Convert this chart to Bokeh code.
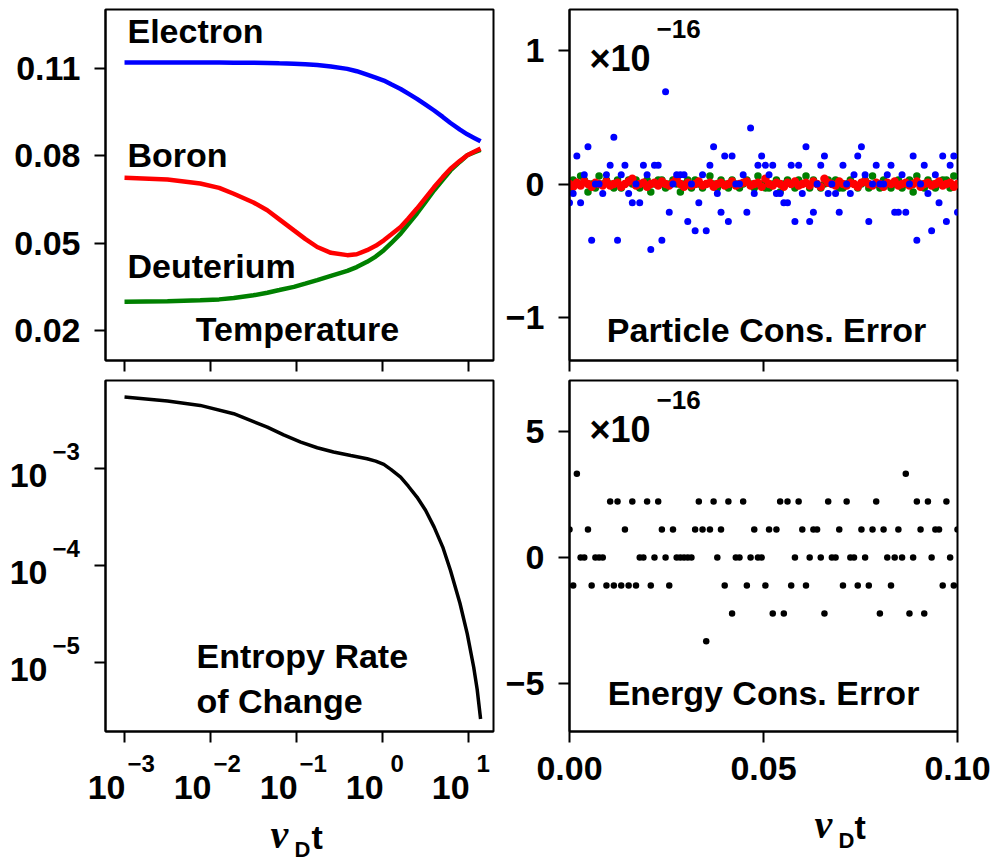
import math
from bokeh.plotting import figure
from bokeh.layouts import column, row
from bokeh.models import Range1d, FixedTicker, Label, CustomJSTickFormatter, NumeralTickFormatter
from bokeh.embed import file_html
from bokeh.resources import INLINE

FONT = "Liberation Sans"
SERIF = "Liberation Serif"

# ---------------- data ----------------
TEMP_T = [0.001, 0.00316, 0.00759, 0.0126, 0.0186, 0.0316, 0.0457, 0.0631, 0.0933, 0.126,
          0.174, 0.251, 0.389, 0.501, 0.661, 0.832, 1.035, 1.259, 1.622, 1.995,
          2.512, 3.162, 3.981, 5.012, 6.166, 7.943, 9.661, 11.75, 13.8]
ELECTRON = [0.1121, 0.1121, 0.1121, 0.1121, 0.1120, 0.1120, 0.1119, 0.1118, 0.1117, 0.1115,
            0.1112, 0.1107, 0.1099, 0.1091, 0.1079, 0.1069, 0.1059, 0.1046, 0.1030, 0.1014,
            0.0996, 0.0976, 0.0956, 0.0934, 0.0913, 0.0890, 0.0874, 0.0861, 0.0850]
BORON = [0.0725, 0.0719, 0.0705, 0.0690, 0.0670, 0.0640, 0.0613, 0.0582, 0.0544, 0.0515,
         0.0487, 0.0467, 0.0459, 0.0462, 0.0476, 0.0491, 0.0510, 0.0530, 0.0556, 0.0585,
         0.0619, 0.0656, 0.0693, 0.0727, 0.0756, 0.0783, 0.0802, 0.0815, 0.0825]
DEUTERIUM = [0.0299, 0.0301, 0.0304, 0.0307, 0.0312, 0.0321, 0.0330, 0.0339, 0.0350, 0.0361,
             0.0373, 0.0388, 0.0405, 0.0418, 0.0436, 0.0454, 0.0476, 0.0500, 0.0533, 0.0566,
             0.0602, 0.0642, 0.0682, 0.0718, 0.0750, 0.0780, 0.0802, 0.0813, 0.0821]

ENT_T = [0.001, 0.00316, 0.00759, 0.0186, 0.0457, 0.0708, 0.112, 0.174, 0.269, 0.427,
         0.661, 0.832, 1.035, 1.259, 1.622, 1.995, 2.512, 3.162, 3.981, 5.012,
         6.166, 7.943, 9.661, 11.48, 12.59, 13.8]
ENTROPY = [5.51e-3, 5.01e-3, 4.52e-3, 3.71e-3, 2.70e-3, 2.24e-3, 1.89e-3, 1.65e-3, 1.49e-3, 1.37e-3,
           1.27e-3, 1.20e-3, 1.11e-3, 9.8e-4, 8.2e-4, 6.6e-4, 5.1e-4, 3.72e-4, 2.49e-4, 1.55e-4,
           8.87e-5, 4.07e-5, 1.96e-5, 8.87e-6, 5.25e-6, 2.59e-6]

TIME = [0.0, 0.00095, 0.0019, 0.00286, 0.00381, 0.00476, 0.00571, 0.00667, 0.00762, 0.00857,
        0.00952, 0.01048, 0.01143, 0.01238, 0.01333, 0.01429, 0.01524, 0.01619, 0.01714, 0.0181,
        0.01905, 0.02, 0.02095, 0.0219, 0.02286, 0.02381, 0.02476, 0.02571, 0.02667, 0.02762,
        0.02857, 0.02952, 0.03048, 0.03143, 0.03238, 0.03333, 0.03429, 0.03524, 0.03619, 0.03714,
        0.0381, 0.03905, 0.04, 0.04095, 0.0419, 0.04286, 0.04381, 0.04476, 0.04571, 0.04667,
        0.04762, 0.04857, 0.04952, 0.05048, 0.05143, 0.05238, 0.05333, 0.05429, 0.05524, 0.05619,
        0.05714, 0.0581, 0.05905, 0.06, 0.06095, 0.0619, 0.06286, 0.06381, 0.06476, 0.06571,
        0.06667, 0.06762, 0.06857, 0.06952, 0.07048, 0.07143, 0.07238, 0.07333, 0.07429, 0.07524,
        0.07619, 0.07714, 0.0781, 0.07905, 0.08, 0.08095, 0.0819, 0.08286, 0.08381, 0.08476,
        0.08571, 0.08667, 0.08762, 0.08857, 0.08952, 0.09048, 0.09143, 0.09238, 0.09333, 0.09429,
        0.09524, 0.09619, 0.09714, 0.0981, 0.09905, 0.1]

# particle conservation error (units of 1e-16)
ERR_BLUE = [-0.14, -0.07, 0.21, -0.14, 0.07, 0.28, -0.42, 0.0, 0.0, -0.07,
            0.07, 0.14, 0.35, -0.42, 0.07, 0.14, -0.07, -0.14, 0.0, -0.14,
            0.14, 0.07, -0.49, 0.14, 0.14, -0.42, 0.69, -0.21, 0.0, 0.07,
            0.07, 0.07, -0.28, 0.0, -0.35, -0.14, 0.07, -0.35, 0.14, 0.28,
            -0.07, -0.21, 0.21, -0.28, 0.21, 0.0, 0.0, 0.07, -0.21, 0.42,
            -0.07, 0.14, 0.21, 0.14, 0.07, 0.14, -0.07, -0.07, -0.14, -0.14,
            0.14, -0.28, 0.14, -0.07, 0.28, -0.28, -0.21, 0.0, 0.14, 0.21,
            -0.07, 0.0, -0.07, -0.21, 0.14, 0.0, -0.07, 0.07, 0.21, 0.28,
            0.07, -0.28, 0.0, 0.14, 0.0, 0.0, 0.07, 0.14, -0.21, -0.21,
            0.07, -0.21, 0.0, 0.21, -0.42, 0.0, 0.14, -0.07, -0.35, 0.07,
            -0.14, 0.21, -0.28, 0.14, 0.21, -0.21]
ERR_GREEN = [-0.03, 0.03, 0.0, 0.06, 0.03, -0.06, 0.0, -0.03, 0.06, 0.0,
             0.03, 0.0, -0.03, 0.03, -0.03, 0.0, 0.03, 0.0, 0.03, -0.03,
             0.0, 0.03, -0.06, 0.0, 0.03, 0.03, -0.03, 0.0, 0.03, 0.0,
             -0.06, 0.0, 0.03, -0.03, 0.03, 0.0, -0.03, 0.0, 0.06, 0.0,
             -0.03, 0.03, 0.0, -0.03, 0.03, 0.0, -0.03, 0.0, 0.03, 0.0,
             -0.03, 0.06, 0.0, -0.03, -0.03, 0.0, 0.03, -0.06, 0.0, 0.03,
             0.0, -0.03, 0.03, 0.0, 0.06, -0.03, 0.03, 0.0, -0.03, 0.0,
             0.03, 0.0, 0.03, -0.03, -0.03, 0.0, 0.03, 0.0, -0.03, 0.0,
             0.03, -0.03, 0.06, 0.0, -0.03, 0.03, 0.0, -0.03, 0.0, 0.03,
             -0.03, 0.0, 0.03, -0.06, 0.06, 0.0, -0.03, 0.03, 0.0, -0.03,
             0.0, 0.03, 0.03, -0.03, 0.06, 0.0]
ERR_RED = [0.0, -0.02, 0.01, -0.01, 0.02, 0.0, -0.02, 0.01, 0.0, -0.01,
           0.02, -0.01, 0.0, 0.01, -0.02, 0.0, 0.02, 0.04, -0.01, 0.0,
           0.01, -0.02, 0.0, 0.01, -0.01, 0.02, 0.0, -0.01, 0.01, 0.04,
           0.0, -0.02, 0.01, -0.01, 0.0, 0.02, -0.01, 0.0, 0.01, -0.02,
           0.0, 0.01, -0.01, 0.0, 0.02, -0.01, 0.0, 0.01, 0.02, -0.01,
           0.0, 0.01, -0.02, 0.04, 0.0, -0.01, 0.01, 0.0, -0.02, 0.01,
           0.0, 0.02, -0.01, 0.0, 0.01, -0.01, 0.02, 0.0, -0.02, 0.04,
           0.01, 0.0, -0.01, 0.02, 0.0, -0.01, 0.01, 0.0, -0.02, 0.01,
           0.02, 0.0, -0.01, 0.01, 0.0, -0.02, 0.01, 0.0, 0.02, -0.01,
           0.0, 0.01, -0.01, 0.0, 0.02, -0.02, 0.0, 0.01, -0.01, 0.0,
           0.02, -0.01, 0.0, 0.01, -0.02, 0.0]
# energy conservation error (units of 1e-16)
ERR_ENERGY = [1.11, -1.11, 3.33, 0, 0, 1.11, -1.11, 0, 0, 0,
              -1.11, 2.22, -1.11, 2.22, -1.11, 1.11, -1.11, 2.22, -1.11, 0,
              0, 2.22, -1.11, 0, 2.22, 1.11, 0, -1.11, 1.11, 0,
              0, 0, 0, 0, 1.11, 2.22, 1.11, -3.33, 1.11, 2.22,
              0, 1.11, -1.11, 2.22, -2.22, 0, 0, 2.22, -1.11, 0,
              1.11, 0, 0, -1.11, 1.11, -2.22, 1.11, 2.22, -2.22, 2.22,
              -1.11, 0, 2.22, 1.11, -1.11, 0, 1.11, 1.11, 0, -2.22,
              2.22, 0, 0, 1.11, -1.11, 2.22, 0, 0, -1.11, 1.11,
              0, -1.11, 1.11, 2.22, -2.22, 1.11, 0, -1.11, 0, 1.11,
              0, 3.33, -2.22, 0, 2.22, 1.11, -2.22, 2.22, 0, 1.11,
              1.11, -1.11, 2.22, 0, -1.11, 1.11]

LOG_TICKS = [1e-3, 1e-2, 1e-1, 1.0, 10.0]
LOG_EXP = ["\u22123", "\u22122", "\u22121", "0", "1"]
TEMP_TICKS = [0.02, 0.05, 0.08, 0.11]
ENT_TICKS = [1e-3, 1e-4, 1e-5]
ENT_EXP = ["\u22123", "\u22124", "\u22125"]
LIN_TICKS = [0.0, 0.05, 0.1]
PART_TICKS = [-1, 0, 1]
ENERGY_TICKS = [-5, 0, 5]

# ---------------- layout constants ----------------
FW, FH = 388, 351
XLOG = (6.01e-4, 19.5)
YENT = (1.92e-6, 8.18e-3)
BASE = 0.38  # baseline shift of Bokeh "alphabetic" labels, in font sizes


def make(xtype, ytype, xr, yr, mbl, mbr, mbt, mbb):
    p = figure(x_axis_type=xtype, y_axis_type=ytype,
               x_range=Range1d(*xr), y_range=Range1d(*yr),
               frame_width=FW, frame_height=FH,
               min_border_left=mbl, min_border_right=mbr,
               min_border_top=mbt, min_border_bottom=mbb,
               toolbar_location=None, output_backend="svg")
    p.xgrid.grid_line_color = None
    p.ygrid.grid_line_color = None
    p.outline_line_color = "black"
    p.outline_line_width = 2
    p.outline_line_alpha = 1.0
    p.background_fill_color = "white"
    p.border_fill_color = "white"
    for ax in p.axis:
        ax.axis_line_color = "black"
        ax.axis_line_width = 2
        ax.major_tick_in = 0
        ax.major_tick_out = 11
        ax.major_tick_line_width = 2
        ax.major_tick_line_color = "black"
        ax.minor_tick_line_color = None
        ax.major_label_text_font = FONT
        ax.major_label_text_font_style = "bold"
        ax.major_label_text_font_size = "34px"
        ax.major_label_text_color = "black"
        ax.major_label_standoff = 14
    return p


def strip(w, h, xtype, xr, ytype, yr):
    p = figure(x_axis_type=xtype, y_axis_type=ytype,
               x_range=Range1d(*xr), y_range=Range1d(*yr),
               frame_width=w, frame_height=h, min_border=0,
               x_axis_location=None, y_axis_location=None,
               toolbar_location=None, output_backend="svg")
    p.xgrid.grid_line_color = None
    p.ygrid.grid_line_color = None
    p.outline_line_color = None
    p.background_fill_color = "white"
    p.border_fill_color = "white"
    return p


def hide_labels(ax):
    ax.formatter = CustomJSTickFormatter(code="return ''")
    ax.major_label_text_font_size = "1px"
    ax.major_label_standoff = 0


def lab(p, x, y, text, size, align="left", xu="screen", yu="screen",
        xo=0, yo=0, font=FONT, style="bold"):
    """y / yo give the wanted baseline; corrected for Bokeh's baseline shift."""
    shift = BASE * size
    if yu == "screen":
        y = y + shift
    else:
        yo = yo + shift
    p.add_layout(Label(x=x, y=y, x_units=xu, y_units=yu, text=text,
                       text_font=font, text_font_size=f"{size}px",
                       text_font_style=style, text_align=align,
                       text_baseline="alphabetic", text_color="black",
                       x_offset=xo, y_offset=yo))


minus_fmt = CustomJSTickFormatter(
    code="return tick < 0 ? '\\u2212' + Math.abs(tick) : '' + tick;")

# ---------------- top-left: temperature ----------------
tl = make("log", "linear", XLOG, (0.0097, 0.1303), 105, 2, 9, 14)
tl.xaxis.ticker = FixedTicker(ticks=LOG_TICKS, minor_ticks=[])
hide_labels(tl.xaxis[0])
tl.yaxis.ticker = FixedTicker(ticks=TEMP_TICKS, minor_ticks=[])
tl.yaxis.formatter = NumeralTickFormatter(format="0.00")
tl.line(TEMP_T, ELECTRON, line_color="#0000ff", line_width=4.5)
tl.line(TEMP_T, DEUTERIUM, line_color="#008000", line_width=4.5)
tl.line(TEMP_T, BORON, line_color="#ff0000", line_width=4.5)
lab(tl, 22, 317, "Electron", 34)
lab(tl, 22, 193, "Boron", 34)
lab(tl, 22, 82, "Deuterium", 34)
lab(tl, 192, 19, "Temperature", 34, align="center")

# ---------------- top-right: particle conservation ----------------
tr = make("linear", "linear", (0.0, 0.1), (-1.32, 1.306), 74, 37, 9, 14)
tr.xaxis.ticker = FixedTicker(ticks=LIN_TICKS, minor_ticks=[])
hide_labels(tr.xaxis[0])
tr.yaxis.ticker = FixedTicker(ticks=PART_TICKS, minor_ticks=[])
tr.yaxis.formatter = minus_fmt
tr.scatter(TIME, ERR_GREEN, marker="circle", size=7.5, fill_color="#008000", line_color=None)
tr.scatter(TIME, ERR_RED, marker="circle", size=8.5, fill_color="#ff0000", line_color=None)
tr.scatter(TIME, ERR_BLUE, marker="circle", size=7, fill_color="#0000ff", line_color=None)
lab(tr, 20, 288, "\u00d710", 36)
lab(tr, 87, 322, "\u221216", 26)
lab(tr, 197, 18, "Particle Cons. Error", 34, align="center")

# ---------------- bottom-left: entropy ----------------
bl = make("log", "log", XLOG, YENT, 15, 2, 6, 14)
bl.xaxis.ticker = FixedTicker(ticks=LOG_TICKS, minor_ticks=[])
hide_labels(bl.xaxis[0])
bl.yaxis.ticker = FixedTicker(ticks=ENT_TICKS, minor_ticks=[])
hide_labels(bl.yaxis[0])
bl.line(ENT_T, ENTROPY, line_color="black", line_width=3.5)
lab(bl, 91, 63, "Entropy Rate", 34)
lab(bl, 91, 18, "of Change", 34)

# strip left of the entropy panel: log y tick labels (same log scale)
dpy = FH / (math.log10(YENT[1]) - math.log10(YENT[0]))
ys_range = (10 ** (math.log10(YENT[0]) - 14 / dpy), 10 ** (math.log10(YENT[1]) + 6 / dpy))
ys = strip(90, 6 + FH + 14, "linear", (0, 90), "log", ys_range)
for tv, ex in zip(ENT_TICKS, ENT_EXP):
    lab(ys, 47, tv, "10", 34, align="right", xu="data", yu="data", yo=-14)
    lab(ys, 52, tv, ex, 24, align="left", xu="data", yu="data", yo=14)

# strip below the entropy panel: log x tick labels and axis title
dpx = FW / (math.log10(XLOG[1]) - math.log10(XLOG[0]))
xs_range = (10 ** (math.log10(XLOG[0]) - 105 / dpx), 10 ** (math.log10(XLOG[1]) + 2 / dpx))
XS_H = 864 - 374 - (6 + FH + 14)
xs = strip(495, XS_H, "log", xs_range, "linear", (0, XS_H))
for tv, ex in zip(LOG_TICKS, LOG_EXP):
    lab(xs, tv, 64, "10", 34, align="right", xu="data", xo=1)
    lab(xs, tv, 92, ex, 24, align="left", xu="data",
        xo=(3 if ex.startswith("\u2212") else 8))
lab(xs, 270, 15, "\u03bd", 40, font=SERIF, style="bold italic")
lab(xs, 294, 7, "D", 22)
lab(xs, 311, 15, "t", 34)

# ---------------- bottom-right: energy conservation ----------------
BR_BOTTOM = 66
br = make("linear", "linear", (0.0, 0.1), (-6.91, 7.03), 74, 37, 6, BR_BOTTOM)
br.xaxis.ticker = FixedTicker(ticks=LIN_TICKS, minor_ticks=[])
br.xaxis.formatter = NumeralTickFormatter(format="0.00")
br.xaxis.major_label_standoff = 14
br.yaxis.ticker = FixedTicker(ticks=ENERGY_TICKS, minor_ticks=[])
br.yaxis.formatter = minus_fmt
br.scatter(TIME, ERR_ENERGY, marker="circle", size=6.5, fill_color="black", line_color=None)
lab(br, 20, 288, "\u00d710", 36)
lab(br, 87, 322, "\u221216", 26)
lab(br, 194, 26, "Energy Cons. Error", 34, align="center")

XR_H = 864 - 374 - (6 + FH + BR_BOTTOM)
xr = strip(499, XR_H, "linear", (0, 499), "linear", (0, XR_H))
lab(xr, 245, XR_H - 42, "\u03bd", 40, font=SERIF, style="bold italic")
lab(xr, 269, XR_H - 51, "D", 22)
lab(xr, 285, XR_H - 42, "t", 34)

layout = column(row(tl, tr),
                row(column(row(ys, bl), xs), column(br, xr)))
open("out.html", "w").write(file_html(layout, INLINE))
